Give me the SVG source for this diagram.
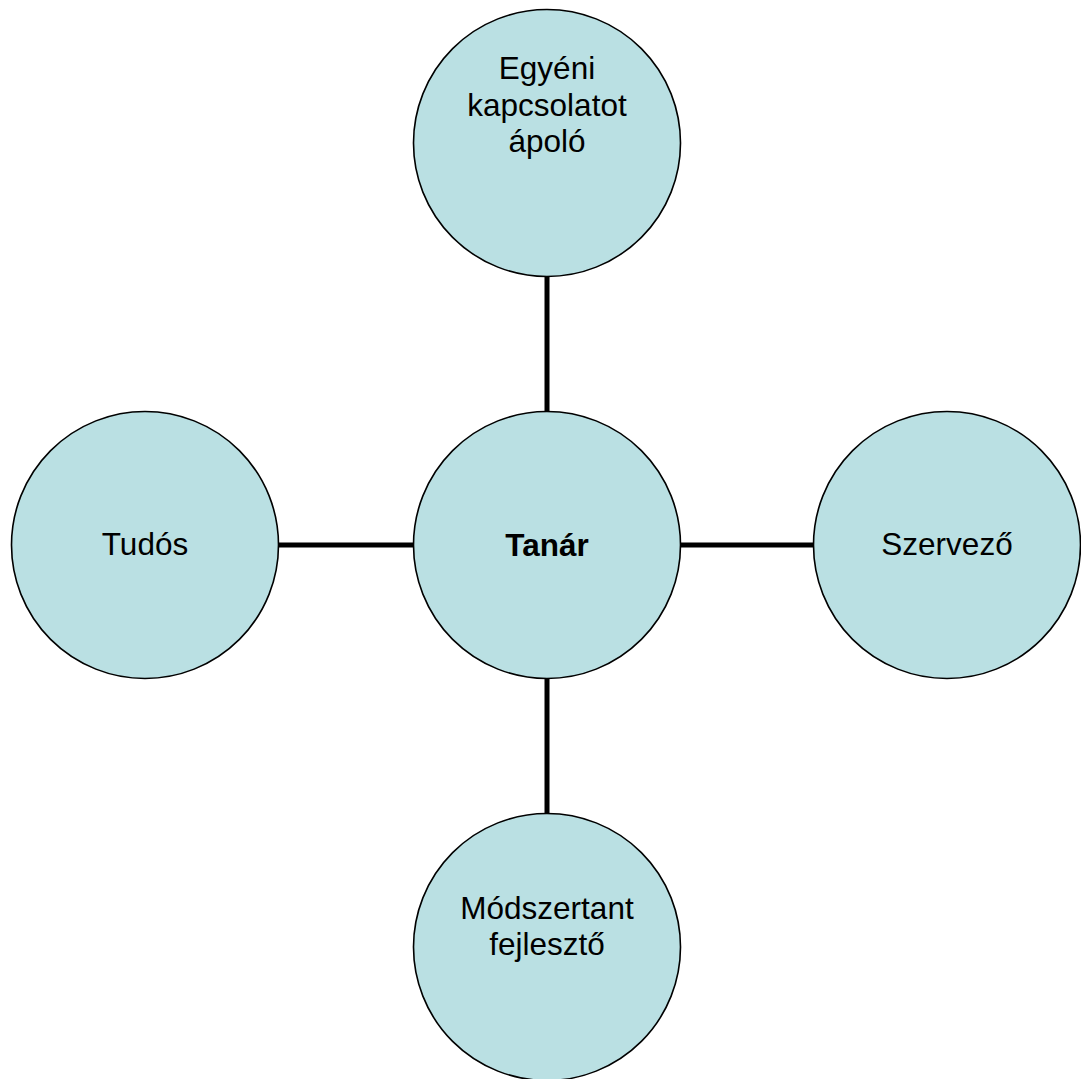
<svg xmlns="http://www.w3.org/2000/svg" width="1081" height="1079" viewBox="0 0 1081 1079">
<style>
.node{fill:#BAE0E3;stroke:#000;stroke-width:1.6}
.lbl{font-family:"Liberation Sans",Arial,sans-serif;font-size:31.5px;fill:#000;text-anchor:middle}
.b{font-weight:bold}
.conn{stroke:#000;stroke-width:5;fill:none}
</style>
<rect width="1081" height="1079" fill="#fff"/>
<g id="connectors">
<line class="conn" x1="547" y1="270" x2="547" y2="420"/>
<line class="conn" x1="270" y1="545" x2="420" y2="545"/>
<line class="conn" x1="674" y1="545" x2="820" y2="545"/>
<line class="conn" x1="547" y1="670" x2="547" y2="820"/>
</g>
<g id="node-top">
<circle class="node" cx="547" cy="143" r="133.5"/>
<text class="lbl" x="547" y="79">Egyéni</text>
<text class="lbl" x="547" y="115.5">kapcsolatot</text>
<text class="lbl" x="547" y="152">ápoló</text>
</g>
<g id="node-left">
<circle class="node" cx="145" cy="545" r="133.5"/>
<text class="lbl" x="145" y="555">Tudós</text>
</g>
<g id="node-center">
<circle class="node" cx="547" cy="545" r="133.5"/>
<text class="lbl b" x="547" y="556">Tanár</text>
</g>
<g id="node-right">
<circle class="node" cx="947" cy="545" r="133.5"/>
<text class="lbl" x="947" y="555">Szervező</text>
</g>
<g id="node-bottom">
<circle class="node" cx="547" cy="947" r="133.5"/>
<text class="lbl" x="547" y="919">Módszertant</text>
<text class="lbl" x="547" y="955">fejlesztő</text>
</g>
</svg>
